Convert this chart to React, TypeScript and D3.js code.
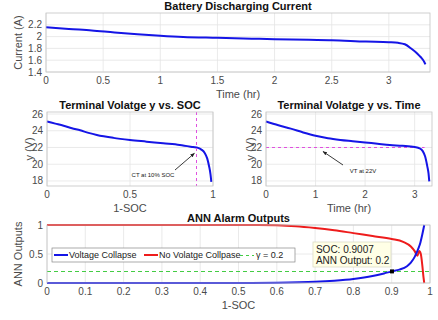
import React from "react";
import * as d3 from "d3";

// Battery discharge current over time
const currentHours = [0, 0.2, 0.4, 0.6, 0.8, 1.0, 1.2, 1.5, 1.8, 2.0, 2.3, 2.5, 2.8, 3.0, 3.08, 3.14, 3.2, 3.25, 3.28, 3.31, 3.32];
const currentAmps = [2.16, 2.13, 2.105, 2.07, 2.04, 2.015, 1.995, 1.98, 1.965, 1.955, 1.945, 1.94, 1.915, 1.905, 1.895, 1.87, 1.79, 1.71, 1.65, 1.57, 1.53];

// Terminal voltage against depth of discharge (1-SOC)
const dod = [0, 0.05, 0.1, 0.15, 0.2, 0.25, 0.3, 0.4, 0.5, 0.6, 0.7, 0.8, 0.88, 0.91, 0.93, 0.95, 0.965, 0.977, 0.985, 0.99];
const voltageDod = [25.1, 24.85, 24.6, 24.3, 24.05, 23.75, 23.5, 23.15, 22.9, 22.7, 22.5, 22.3, 22.05, 21.95, 21.75, 21.35, 20.7, 19.7, 18.8, 17.9];

// Terminal voltage against time
const voltHours = [0, 0.25, 0.5, 0.75, 1, 1.25, 1.5, 1.75, 2, 2.25, 2.5, 2.75, 3.0, 3.1, 3.16, 3.21, 3.255, 3.28, 3.295];
const voltageHours = [25.1, 24.65, 24.25, 23.8, 23.4, 23.1, 22.9, 22.75, 22.6, 22.45, 22.3, 22.2, 22.05, 21.9, 21.6, 20.95, 19.75, 18.9, 17.95];

// ANN alarm outputs
const collapseDod = [0, 0.5, 0.6, 0.7, 0.75, 0.8, 0.85, 0.88, 0.9007, 0.92, 0.94, 0.95, 0.96, 0.97, 0.975, 0.98, 0.985];
const collapseOut = [0, 0, 0.004, 0.02, 0.04, 0.07, 0.12, 0.165, 0.2, 0.23, 0.29, 0.35, 0.45, 0.6, 0.7, 0.84, 1.0];
const noCollapseDod = [0, 0.55, 0.65, 0.7, 0.75, 0.8, 0.85, 0.9, 0.93, 0.95, 0.96, 0.967, 0.972, 0.976, 0.98, 0.983, 0.985];
const noCollapseOut = [1, 1, 0.98, 0.95, 0.91, 0.86, 0.81, 0.76, 0.71, 0.63, 0.55, 0.47, 0.55, 0.5, 0.3, 0.1, 0.0];
const gamma = 0.2;
const tipSoc = 0.9007;
const tipOut = 0.2;
const ctLevel = 0.9;
const vtLevel = 22;

const hourTicks = [0, 0.5, 1, 1.5, 2, 2.5, 3];
const ampTicks = [1.4, 1.6, 1.8, 2, 2.2];
const voltTicks = [18, 20, 22, 24, 26];
const dodTicksMid = [0, 0.5, 1];
const hourTicksMid = [0, 1, 2, 3];
const dodTicksAnn = [0, 0.1, 0.2, 0.3, 0.4, 0.5, 0.6, 0.7, 0.8, 0.9, 1];
const annTicks = [0, 0.5, 1];

const FONT = "'Liberation Sans', Arial, Helvetica, sans-serif";
const GRID = "#e4e4e4";
const BOX = "#c4c4c4";
const TXT = "#4a4a4a";
const BLUE = "#1515e6";
const RED = "#ee1c1c";
const MAGENTA = "#e050e0";
const GREEN = "#44cc44";

type Box = { l: number; r: number; t: number; b: number };

// align a 1px stroke to the pixel grid
const crisp = (v: number) => Math.round(v) + 0.5;

function fmt(v: number) {
  return String(v);
}

function Axes({ box, x, y, xt, yt, title, xlabel, ylabel, ylabelX, children }: any) {
  return (
    <g>
      <rect x={box.l} y={box.t} width={box.r - box.l} height={box.b - box.t} fill="#fff" />
      {xt.map((v: number) => (
        <line key={"gx" + v} x1={x(v)} x2={x(v)} y1={box.t} y2={box.b} stroke={GRID} strokeWidth={0.8} />
      ))}
      {yt.map((v: number) => (
        <line key={"gy" + v} x1={box.l} x2={box.r} y1={y(v)} y2={y(v)} stroke={GRID} strokeWidth={0.8} />
      ))}
      {children}
      <rect x={box.l} y={box.t} width={box.r - box.l} height={box.b - box.t} fill="none" stroke={BOX} strokeWidth={0.8} />
      {xt.map((v: number) => (
        <text key={"tx" + v} x={x(v)} y={box.b + 12} fontSize={10} fill={TXT} textAnchor="middle" fontFamily={FONT}>
          {fmt(v)}
        </text>
      ))}
      {yt.map((v: number) => (
        <text key={"ty" + v} x={box.l - 4} y={y(v) + 3.5} fontSize={10} fill={TXT} textAnchor="end" fontFamily={FONT}>
          {fmt(v)}
        </text>
      ))}
      <text x={(box.l + box.r) / 2} y={box.t - 3} fontSize={11} fontWeight="bold" fill="#111" textAnchor="middle" fontFamily={FONT}>
        {title}
      </text>
      <text x={(box.l + box.r) / 2} y={box.b + 26} fontSize={11} fill={TXT} textAnchor="middle" fontFamily={FONT}>
        {xlabel}
      </text>
      <text
        transform={`translate(${ylabelX},${(box.t + box.b) / 2}) rotate(-90)`}
        fontSize={11}
        fill={TXT}
        textAnchor="middle"
        fontFamily={FONT}
      >
        {ylabel}
      </text>
    </g>
  );
}

function pathOf(xs: number[], ys: number[], x: any, y: any) {
  const pts = xs.map((v, i) => [v, ys[i]] as [number, number]);
  return d3
    .line<[number, number]>()
    .x((d) => x(d[0]))
    .y((d) => y(d[1]))
    .curve(d3.curveMonotoneX)(pts) as string;
}

export default function App() {
  // top panel
  const b1: Box = { l: 46, r: 430, t: 13, b: 72 };
  const x1 = d3.scaleLinear().domain([0, 3.36]).range([b1.l, b1.r]);
  const y1 = d3.scaleLinear().domain([1.4, 2.4]).range([b1.b, b1.t]);

  // middle left
  const b2: Box = { l: 47, r: 213, t: 112, b: 186 };
  const x2 = d3.scaleLinear().domain([0, 1]).range([b2.l, b2.r]);
  const y2 = d3.scaleLinear().domain([17.4, 26.24]).range([b2.b, b2.t]);

  // middle right
  const b3: Box = { l: 266, r: 432, t: 112, b: 186 };
  const x3 = d3.scaleLinear().domain([0, 3.35]).range([b3.l, b3.r]);
  const y3 = d3.scaleLinear().domain([17.4, 26.24]).range([b3.b, b3.t]);

  // bottom
  const b4: Box = { l: 47, r: 430, t: 225, b: 283 };
  const x4 = d3.scaleLinear().domain([0, 1]).range([b4.l, b4.r]);
  const y4 = d3.scaleLinear().domain([0, 1]).range([b4.b, b4.t]);

  const tipX = x4(tipSoc);
  const tipY = y4(tipOut);
  const ctX = crisp(x2(ctLevel));
  const vtY = crisp(y3(vtLevel));
  const gY = crisp(y4(gamma));

  return (
    <svg width={438} height={320} style={{ position: "absolute", left: 0, top: 0, background: "#fff" }}>
      <defs>
        <marker id="arrowHead" viewBox="0 0 10 10" refX="9" refY="5" markerWidth="5" markerHeight="5" orient="auto">
          <path d="M0,1 L10,5 L0,9 z" fill="#222" />
        </marker>
      </defs>
      <rect width={438} height={320} fill="#fff" />

      <Axes box={b1} x={x1} y={y1} xt={hourTicks} yt={ampTicks} title="Battery Discharging Current" xlabel="Time (hr)" ylabel="Current (A)" ylabelX={22}>
        <path d={pathOf(currentHours, currentAmps, x1, y1)} fill="none" stroke={BLUE} strokeWidth={2} />
      </Axes>

      <Axes box={b2} x={x2} y={y2} xt={dodTicksMid} yt={voltTicks} title="Terminal Volatge y vs. SOC" xlabel="1-SOC" ylabel="y (V)" ylabelX={33}>
        <path d={pathOf(dod, voltageDod, x2, y2)} fill="none" stroke={BLUE} strokeWidth={2} />
        <line x1={ctX} x2={ctX} y1={b2.t} y2={b2.b} stroke={MAGENTA} strokeWidth={1} strokeDasharray="3,3" />
        <line x1={175} y1={170} x2={x2(ctLevel) - 2} y2={y2(21.3)} stroke="#222" strokeWidth={0.9} markerEnd="url(#arrowHead)" />
        <text x={153} y={177} fontSize={6} fill="#222" textAnchor="middle" fontFamily={FONT}>
          CT at 10% SOC
        </text>
      </Axes>

      <Axes box={b3} x={x3} y={y3} xt={hourTicksMid} yt={voltTicks} title="Terminal Volatge y vs. Time" xlabel="Time (hr)" ylabel="y (V)" ylabelX={254}>
        <line x1={x3(0)} x2={x3(3.2)} y1={vtY} y2={vtY} stroke={MAGENTA} strokeWidth={1} strokeDasharray="3,3" />
        <path d={pathOf(voltHours, voltageHours, x3, y3)} fill="none" stroke={BLUE} strokeWidth={2} />
        <line x1={343} y1={165} x2={x3(1.15)} y2={y3(vtLevel) + 4} stroke="#222" strokeWidth={0.9} markerEnd="url(#arrowHead)" />
        <text x={363} y={173} fontSize={6} fill="#222" textAnchor="middle" fontFamily={FONT}>
          VT at 22V
        </text>
      </Axes>

      <Axes box={b4} x={x4} y={y4} xt={dodTicksAnn} yt={annTicks} title="ANN Alarm Outputs" xlabel="1-SOC" ylabel="ANN Outputs" ylabelX={22}>
        <line x1={b4.l} x2={b4.r} y1={gY} y2={gY} stroke={GREEN} strokeWidth={1} strokeDasharray="4,3" />
        <path d={pathOf(noCollapseDod, noCollapseOut, x4, y4)} fill="none" stroke={RED} strokeWidth={2} />
        <path d={pathOf(collapseDod, collapseOut, x4, y4)} fill="none" stroke={BLUE} strokeWidth={2} />
        {/* legend */}
        <g fontFamily={FONT} fontSize={9} fill="#222">
          <rect x={52} y={248} width={243} height={14} fill="#fff" stroke="#888" strokeWidth={0.7} />
          <line x1={54} x2={68} y1={255} y2={255} stroke={BLUE} strokeWidth={2} />
          <text x={69} y={258.3}>Voltage Collapse</text>
          <line x1={144} x2={158} y1={255} y2={255} stroke={RED} strokeWidth={2} />
          <text x={159} y={258.3}>No Volatge Collpase</text>
          <line x1={240} x2={254} y1={255.5} y2={255.5} stroke={GREEN} strokeWidth={1} strokeDasharray="3,3" />
          <text x={256} y={258.3}>γ = 0.2</text>
        </g>
        {/* data tip */}
        <rect x={tipX - 79} y={242} width={78} height={25} fill="#ffffe6" stroke="#d8d8c0" strokeWidth={0.7} />
        <text x={tipX - 76} y={252.5} fontSize={10} fill="#222" fontFamily={FONT}>
          SOC: 0.9007
        </text>
        <text x={tipX - 76} y={264} fontSize={10} fill="#222" fontFamily={FONT}>
          ANN Output: 0.2
        </text>
        <rect x={tipX - 2} y={tipY - 2} width={4} height={4} fill="#000" />
      </Axes>
    </svg>
  );
}
